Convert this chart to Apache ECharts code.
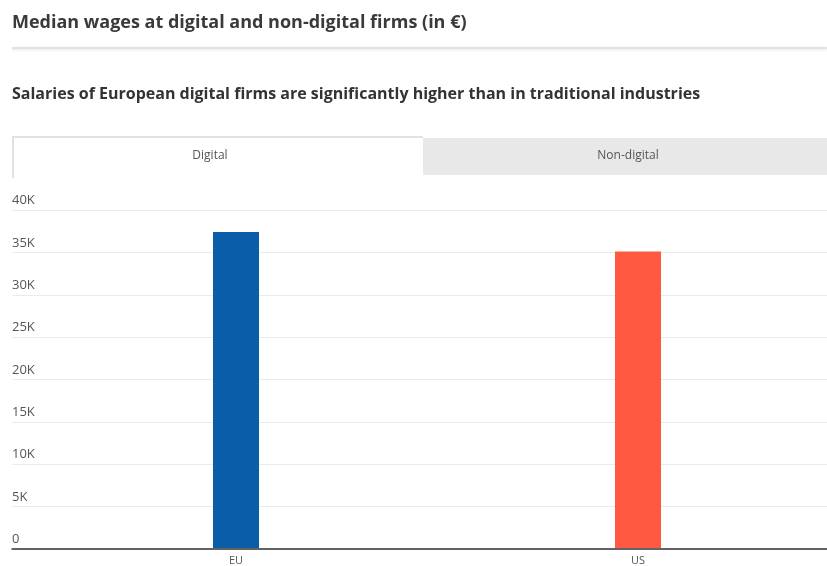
<!DOCTYPE html>
<html>
<head>
<meta charset="utf-8">
<script src="https://cdn.jsdelivr.net/npm/echarts@6/dist/echarts.min.js"></script>
<style>
  html, body { margin: 0; padding: 0; background: #fff; }
  #chart { width: 827px; height: 566px; }
</style>
</head>
<body>
<div id="chart"></div>
<script>
// 图表数据
const regions = ['EU', 'US']
const wages = [37400, 35100]
const barColors = ['#0a5ea9', '#ff5a41']
const tabs = ['Digital', 'Non-digital']
const yMax = 40000
const yStep = 5000

const font = '"Open Sans", Roboto, sans-serif'
const chart = echarts.init(document.getElementById('chart'))

const option = {
  backgroundColor: '#fff',
  textStyle: { fontFamily: font },
  // 标题
  title: [
    {
      text: 'Median wages at digital and non-digital firms (in €)',
      left: 12,
      top: 14,
      padding: 0,
      textStyle: { fontSize: 18, fontWeight: 'bold', color: '#3a3a3a', fontFamily: font }
    },
    {
      text: 'Salaries of European digital firms are significantly higher than in traditional industries',
      left: 12,
      top: 86,
      padding: 0,
      textStyle: { fontSize: 16, fontWeight: 'bold', color: '#333', fontFamily: font }
    }
  ],
  // 分隔线 + 标签页
  graphic: [
    {
      type: 'rect',
      shape: { x: 12, y: 47, width: 815, height: 2 },
      style: { fill: '#e2e2e2', shadowBlur: 3, shadowColor: 'rgba(0,0,0,0.12)', shadowOffsetY: 1 },
      silent: true
    },
    {
      type: 'rect',
      shape: { x: 423, y: 138, width: 404, height: 37 },
      style: { fill: '#e8e8e8' },
      silent: true
    },
    {
      type: 'polyline',
      shape: { points: [[13, 178], [13, 137], [423, 137]] },
      style: { stroke: '#e2e2e2', lineWidth: 2, fill: null },
      silent: true
    },
    {
      type: 'text',
      x: 210,
      y: 156,
      style: { text: tabs[0], fill: '#555', fontSize: 12, fontFamily: font, align: 'center', verticalAlign: 'middle' },
      silent: true
    },
    {
      type: 'text',
      x: 628,
      y: 156,
      style: { text: tabs[1], fill: '#555', fontSize: 12, fontFamily: font, align: 'center', verticalAlign: 'middle' },
      silent: true
    }
  ],
  grid: [
    { left: 12, right: 0, top: 210, bottom: 17, containLabel: false },
    // 柱状图所在网格：两个类目分别落在左右边界上
    { left: 236, right: 189, top: 210, bottom: 17, containLabel: false }
  ],
  // x轴
  xAxis: [
    {
      type: 'category',
      gridIndex: 0,
      data: regions,
      axisLine: { show: true, lineStyle: { color: '#333', width: 1.5 } },
      axisTick: { show: false },
      axisLabel: { show: false }
    },
    {
      type: 'category',
      gridIndex: 1,
      data: regions,
      boundaryGap: false,
      axisLine: { show: false },
      axisTick: { show: false },
      axisLabel: { color: '#555', fontSize: 11, margin: 7, fontFamily: font }
    }
  ],
  // y轴
  yAxis: [
    {
      type: 'value',
      gridIndex: 0,
      min: 0,
      max: yMax,
      interval: yStep,
      axisLine: { show: false },
      axisTick: { show: false },
      splitLine: { lineStyle: { color: '#ebebeb', width: 1 } },
      axisLabel: {
        inside: true,
        margin: 0,
        align: 'left',
        verticalAlign: 'bottom',
        padding: [0, 0, 3, 0],
        color: '#555',
        fontSize: 13,
        fontFamily: font,
        formatter: v => (v === 0 ? '0' : v / 1000 + 'K')
      }
    },
    {
      type: 'value',
      gridIndex: 1,
      min: 0,
      max: yMax,
      interval: yStep,
      show: false
    }
  ],
  // 数据
  series: [
    {
      type: 'bar',
      xAxisIndex: 1,
      yAxisIndex: 1,
      barWidth: 46,
      data: wages.map((v, i) => ({ value: v, itemStyle: { color: barColors[i] } }))
    }
  ]
}

chart.setOption(option)
</script>
</body>
</html>
